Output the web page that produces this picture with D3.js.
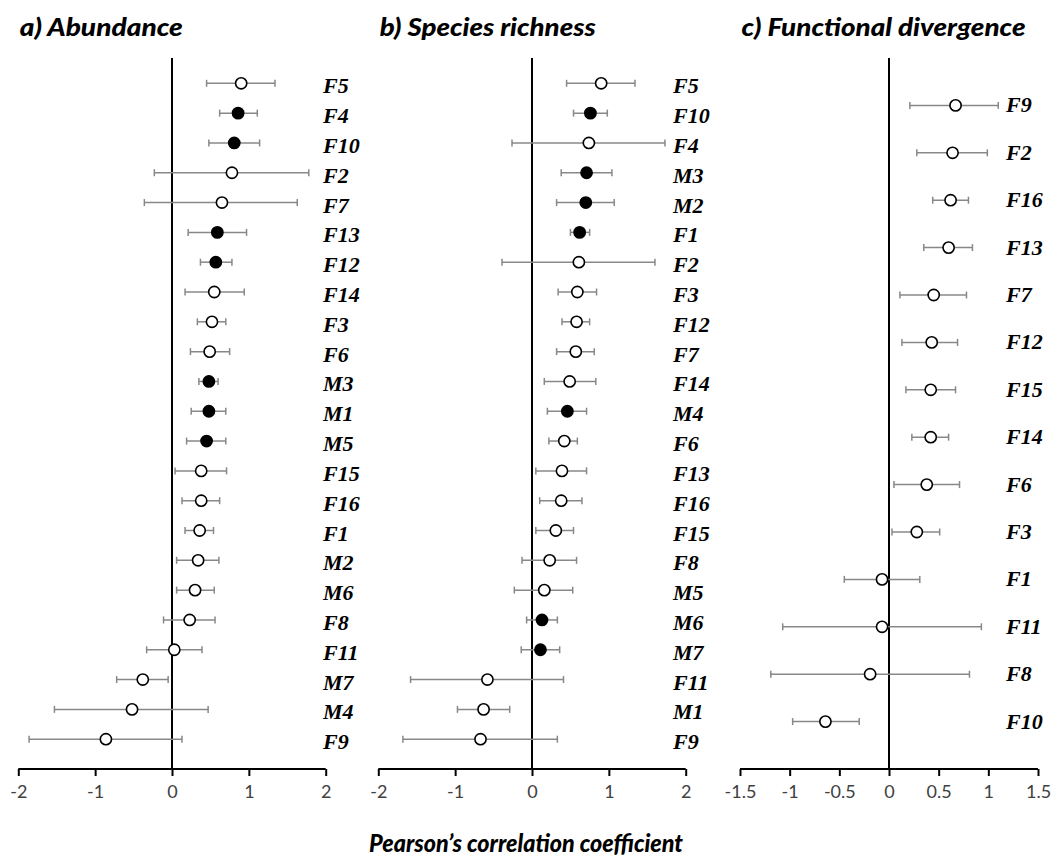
<!DOCTYPE html>
<html>
<head>
<meta charset="utf-8">
<script src="https://cdn.jsdelivr.net/npm/d3@7"></script>
<style>
  body { margin: 0; background: #fff; }
  svg { display: block; }
</style>
</head>
<body>
<div id="chart"></div>
<script>
// rows listed top to bottom: label, r, lower CI, upper CI, significant (filled)
const abundance = [
    ["F5", 0.90, 0.45, 1.34, 0], ["F4", 0.86, 0.62, 1.11, 1], ["F10", 0.81, 0.48, 1.14, 1],
    ["F2", 0.78, -0.23, 1.78, 0], ["F7", 0.65, -0.36, 1.63, 0], ["F13", 0.59, 0.21, 0.97, 1],
    ["F12", 0.57, 0.37, 0.78, 1], ["F14", 0.55, 0.17, 0.94, 0], ["F3", 0.52, 0.33, 0.70, 0],
    ["F6", 0.49, 0.24, 0.75, 0], ["M3", 0.48, 0.35, 0.60, 1], ["M1", 0.48, 0.25, 0.70, 1],
    ["M5", 0.45, 0.19, 0.70, 1], ["F15", 0.38, 0.04, 0.71, 0], ["F16", 0.38, 0.13, 0.62, 0],
    ["F1", 0.36, 0.17, 0.54, 0], ["M2", 0.34, 0.06, 0.61, 0], ["M6", 0.30, 0.06, 0.55, 0],
    ["F8", 0.23, -0.11, 0.56, 0], ["F11", 0.03, -0.33, 0.39, 0], ["M7", -0.38, -0.72, -0.05, 0],
    ["M4", -0.52, -1.53, 0.47, 0], ["F9", -0.86, -1.86, 0.13, 0]
];

const richness = [
    ["F5", 0.90, 0.45, 1.34, 0], ["F10", 0.76, 0.54, 0.98, 1], ["F4", 0.74, -0.26, 1.73, 0],
    ["M3", 0.71, 0.38, 1.04, 1], ["M2", 0.70, 0.32, 1.07, 1], ["F1", 0.62, 0.50, 0.75, 1],
    ["F2", 0.61, -0.39, 1.60, 0], ["F3", 0.59, 0.34, 0.84, 0], ["F12", 0.58, 0.39, 0.75, 0],
    ["F7", 0.57, 0.32, 0.81, 0], ["F14", 0.49, 0.16, 0.83, 0], ["M4", 0.46, 0.20, 0.71, 1],
    ["F6", 0.42, 0.22, 0.59, 0], ["F13", 0.39, 0.05, 0.71, 0], ["F16", 0.38, 0.10, 0.65, 0],
    ["F15", 0.31, 0.05, 0.54, 0], ["F8", 0.23, -0.13, 0.58, 0], ["M5", 0.16, -0.23, 0.53, 0],
    ["M6", 0.13, -0.07, 0.33, 1], ["M7", 0.11, -0.14, 0.36, 1], ["F11", -0.58, -1.58, 0.41, 0],
    ["M1", -0.63, -0.97, -0.29, 0], ["F9", -0.67, -1.68, 0.33, 0]
];

const divergence = [
    ["F9", 0.67, 0.21, 1.10, 0], ["F2", 0.64, 0.28, 0.99, 0], ["F16", 0.62, 0.44, 0.80, 0],
    ["F13", 0.60, 0.35, 0.84, 0], ["F7", 0.45, 0.11, 0.78, 0], ["F12", 0.43, 0.13, 0.69, 0],
    ["F15", 0.42, 0.17, 0.67, 0], ["F14", 0.42, 0.23, 0.60, 0], ["F6", 0.38, 0.05, 0.71, 0],
    ["F3", 0.28, 0.03, 0.51, 0], ["F1", -0.07, -0.45, 0.31, 0], ["F11", -0.07, -1.07, 0.93, 0],
    ["F8", -0.19, -1.19, 0.81, 0], ["F10", -0.64, -0.97, -0.30, 0]
];

const abTicks = [-2, -1, 0, 1, 2];
const fdTicks = [-1.5, -1, -0.5, 0, 0.5, 1, 1.5];

const titles = ["a) Abundance", "b) Species richness", "c) Functional divergence"];
const xTitle = "Pearson\u2019s correlation coefficient";

const width = 1053, height = 866;
const baseY = 769, topY = 58;

const panels = [
    { data: abundance, title: titles[0], titleW: 163, domain: [-2, 2], ticks: abTicks, x0: 18.3, x1: 325.7, labelX: 323, yTop: 53.5, labelDy: 10 },
    { data: richness, title: titles[1], titleW: 216, domain: [-2, 2], ticks: abTicks, x0: 378.3, x1: 685.7, labelX: 673, yTop: 53.5, labelDy: 10 },
    { data: divergence, title: titles[2], titleW: 284, domain: [-1.5, 1.5], ticks: fdTicks, x0: 740, x1: 1038, labelX: 1006, yTop: 58, labelDy: 7 }
];

const svg = d3.select("#chart")
    .append("svg")
    .attr("width", width)
    .attr("height", height);

panels.forEach(p => {
    const n = p.data.length;
    const x = d3.scaleLinear().domain(p.domain).range([p.x0, p.x1]);
    // rows are 1..n from bottom, axis spans 0..n+1
    const y = d3.scaleLinear().domain([0, n + 1]).range([baseY, p.yTop]);
    const rowY = (d, i) => y(n - i);

    const g = svg.append("g");

    g.append("text")
        .attr("x", p.x0 + 1.5)
        .attr("y", 36)
        .attr("font-family", "Lato, sans-serif")
        .attr("font-weight", 900)
        .attr("font-style", "italic")
        .attr("font-size", 24)
        .attr("textLength", p.titleW)
        .attr("lengthAdjust", "spacingAndGlyphs")
        .attr("fill", "#000")
        .text(p.title);

    // x axis
    const axis = g.append("g")
        .attr("transform", `translate(0,${baseY})`)
        .call(d3.axisBottom(x).tickValues(p.ticks).tickSize(7).tickPadding(9)
            .tickFormat(d => d3.format("")(d).replace("\u2212", "-")));
    axis.select(".domain").attr("stroke", "#000").attr("stroke-width", 2)
        .attr("d", `M${p.x0},0H${p.x1}`);
    axis.selectAll(".tick line").attr("stroke", "#000").attr("stroke-width", 2);
    axis.selectAll(".tick text")
        .attr("font-family", "Lato, sans-serif")
        .attr("font-size", 18)
        .attr("fill", "#404040");

    // zero line
    g.append("line")
        .attr("x1", x(0)).attr("x2", x(0))
        .attr("y1", topY).attr("y2", baseY)
        .attr("stroke", "#000")
        .attr("stroke-width", 2);

    const rows = g.selectAll(".row")
        .data(p.data)
        .join("g")
        .attr("class", "row")
        .attr("transform", (d, i) => `translate(0,${rowY(d, i)})`);

    rows.append("line")
        .attr("x1", d => x(d[2])).attr("x2", d => x(d[3]))
        .attr("stroke", "#888").attr("stroke-width", 1.5);
    rows.selectAll(".cap")
        .data(d => [d[2], d[3]])
        .join("line")
        .attr("class", "cap")
        .attr("x1", v => x(v)).attr("x2", v => x(v))
        .attr("y1", -3.5).attr("y2", 3.5)
        .attr("stroke", "#888").attr("stroke-width", 1.5);

    rows.append("circle")
        .attr("cx", d => x(d[1]))
        .attr("r", 5.6)
        .attr("fill", d => d[4] ? "#000" : "#fff")
        .attr("stroke", "#000")
        .attr("stroke-width", 1.6);

    rows.append("text")
        .attr("x", p.labelX)
        .attr("y", p.labelDy)
        .attr("font-family", "'Liberation Serif', 'Times New Roman', serif")
        .attr("font-weight", "bold")
        .attr("font-style", "italic")
        .attr("font-size", 22)
        .attr("fill", "#000")
        .text(d => d[0]);
});

svg.append("text")
    .attr("x", 526)
    .attr("y", 852)
    .attr("text-anchor", "middle")
    .attr("font-family", "Lato, sans-serif")
    .attr("font-weight", 900)
    .attr("font-style", "italic")
    .attr("font-size", 24)
    .attr("textLength", 314)
    .attr("lengthAdjust", "spacingAndGlyphs")
    .text(xTitle);
</script>
</body>
</html>
